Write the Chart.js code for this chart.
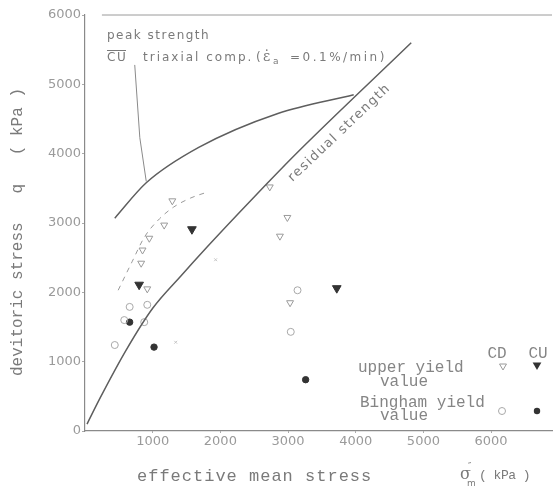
<!DOCTYPE html>
<html>
<head>
<meta charset="utf-8">
<script src="https://cdn.jsdelivr.net/npm/chart.js@4.4.1/dist/chart.umd.min.js"></script>
<style>
  body { margin: 0; background: #fff; }
</style>
</head>
<body>
<canvas id="stressChart" width="558" height="486"></canvas>
<script>
// peak strength, CU triaxial comp.
const peakX = [440, 905, 1680, 2850, 3970];
const peakY = [3070, 3580, 4090, 4580, 4850];
// residual strength
const residualX = [30, 220, 610, 1000, 1420, 1800, 2260, 2700, 3130, 4820];
const residualY = [100, 470, 1170, 1770, 2240, 2650, 3130, 3580, 4010, 5600];
// dashed trend through the CD upper yield points
const dashX = [490, 700, 880, 1100, 1310, 1560, 1820];
const dashY = [2030, 2450, 2800, 3060, 3230, 3360, 3450];
// pointer from the label to the peak curve
const pointerX = [735, 810, 905];
const pointerY = [5280, 4230, 3600];
// top frame line
const topX = [250, 6900];
const topY = [6000, 6000];

// upper yield value
const cdUpperX = [830, 850, 920, 950, 1170, 1290, 2730, 2880, 2990, 3030];
const cdUpperY = [2420, 2610, 2050, 2780, 2970, 3320, 3520, 2810, 3080, 1850];
const cuUpperX = [800, 1580, 3720];
const cuUpperY = [2110, 2910, 2060];
// Bingham yield value
const cdBinghamX = [440, 580, 660, 875, 920, 3040, 3140];
const cdBinghamY = [1240, 1600, 1790, 1570, 1820, 1430, 2030];
const cuBinghamX = [660, 1020, 3260];
const cuBinghamY = [1570, 1210, 740];
// faint stray marks
const faintX = [1340, 1930];
const faintY = [1280, 2470];

const xTicks = [1000, 2000, 3000, 4000, 5000, 6000];

const pts = (xs, ys) => xs.map((x, i) => ({ x: x, y: ys[i] }));

const lineColor = '#5e5e5e';
const textColor = '#7a7a7a';

function curve(xs, ys, opts) {
  return Object.assign({
    type: 'line',
    data: pts(xs, ys),
    showLine: true,
    borderColor: lineColor,
    borderWidth: 1.5,
    pointRadius: 0,
    cubicInterpolationMode: 'monotone',
    fill: false
  }, opts || {});
}

function marks(xs, ys, opts) {
  return Object.assign({
    data: pts(xs, ys),
    showLine: false,
    borderWidth: 1
  }, opts);
}

function tri(ctx, x, y, r, filled, color) {
  ctx.beginPath();
  ctx.moveTo(x - r * 0.87, y - r * 0.5);
  ctx.lineTo(x + r * 0.87, y - r * 0.5);
  ctx.lineTo(x, y + r);
  ctx.closePath();
  if (filled) { ctx.fillStyle = color; ctx.fill(); }
  else { ctx.strokeStyle = color; ctx.lineWidth = 1; ctx.stroke(); }
}

function dot(ctx, x, y, r, filled, color) {
  ctx.beginPath();
  ctx.arc(x, y, r, 0, Math.PI * 2);
  if (filled) { ctx.fillStyle = color; ctx.fill(); }
  else { ctx.strokeStyle = color; ctx.lineWidth = 1; ctx.stroke(); }
}

const annotations = {
  id: 'annotations',
  afterDraw(chart) {
    const ctx = chart.ctx;
    const sx = chart.scales.x, sy = chart.scales.y;
    ctx.save();
    ctx.fillStyle = textColor;
    ctx.textBaseline = 'middle';

    // y axis title
    ctx.save();
    ctx.translate(18, 232);
    ctx.rotate(-Math.PI / 2);
    ctx.textAlign = 'center';
    ctx.font = '16px "Liberation Mono"';
    ctx.fillText('devitoric stress   q   ( kPa )', 0, 0);
    ctx.restore();

    // x axis title
    ctx.textAlign = 'left';
    ctx.font = '17px "Liberation Mono"';
    ctx.letterSpacing = '1px';
    ctx.fillText('effective mean stress', 137, 476);
    ctx.letterSpacing = '0px';
    ctx.font = '16px "DejaVu Serif"';
    ctx.fillText('σ', 460, 475);
    ctx.font = '9px "DejaVu Sans"';
    ctx.fillText('″', 468, 467);
    ctx.fillText('m', 467, 484);
    ctx.font = '13px "Liberation Mono"';
    ctx.letterSpacing = '-0.5px';
    ctx.fillText('( kPa )', 479, 476);

    // peak strength label
    ctx.font = '12px "DejaVu Sans"';
    ctx.letterSpacing = '1.5px';
    ctx.fillText('peak strength', 107, 36);
    ctx.fillText('CU', 107, 58);
    ctx.letterSpacing = '2px';
    ctx.fillText('triaxial comp.', 143, 58);
    ctx.letterSpacing = '0px';
    ctx.fillText('(', 256, 58);
    ctx.font = '14px "DejaVu Serif"';
    ctx.fillText('\u03B5\u0307', 263, 57);
    ctx.font = '9px "DejaVu Sans"';
    ctx.fillText('a', 273, 62);
    ctx.font = '12px "DejaVu Sans"';
    ctx.letterSpacing = '2.5px';
    ctx.fillText('=0.1%/min)', 290, 58);
    ctx.letterSpacing = '0px';
    ctx.strokeStyle = textColor;
    ctx.lineWidth = 1;
    ctx.beginPath();
    ctx.moveTo(107, 50.5);
    ctx.lineTo(126, 50.5);
    ctx.stroke();

    // residual strength label, along the line
    ctx.save();
    ctx.translate(sx.getPixelForValue(3760), sy.getPixelForValue(4300));
    ctx.rotate(-0.76);
    ctx.textAlign = 'center';
    ctx.font = '13px "DejaVu Sans"';
    ctx.letterSpacing = '1.5px';
    ctx.fillText('residual strength', 0, 0);
    ctx.restore();

    // legend block
    ctx.letterSpacing = '0px';
    ctx.fillStyle = '#858585';
    ctx.font = '16px "Liberation Mono"';
    ctx.textAlign = 'center';
    ctx.fillText('CD', 497, 354);
    ctx.fillText('CU', 538, 354);
    ctx.textAlign = 'left';
    ctx.fillText('upper yield', 358, 368);
    ctx.fillText('value', 380, 382);
    ctx.fillText('Bingham yield', 360, 403);
    ctx.fillText('value', 380, 416);
    tri(ctx, 503, 366, 4, false, '#9a9a9a');
    tri(ctx, 537, 365, 5, true, '#333');
    dot(ctx, 502, 411, 3.5, false, '#a8a8a8');
    dot(ctx, 537, 411, 3.2, true, '#333');

    ctx.restore();
  }
};

new Chart(document.getElementById('stressChart'), {
  type: 'scatter',
  data: {
    datasets: [
      curve(peakX, peakY),
      curve(residualX, residualY),
      curve(dashX, dashY, { borderColor: '#9a9a9a', borderWidth: 1, borderDash: [5, 5] }),
      curve(pointerX, pointerY, { borderColor: '#8a8a8a', borderWidth: 1, cubicInterpolationMode: 'default', tension: 0 }),
      curve(topX, topY, { borderColor: '#9a9a9a', borderWidth: 1, clip: false, tension: 0 }),
      marks(cdUpperX, cdUpperY, { pointStyle: 'triangle', rotation: 180, pointRadius: 4, borderColor: '#9a9a9a', backgroundColor: 'rgba(255,255,255,0)' }),
      marks(cuUpperX, cuUpperY, { pointStyle: 'triangle', rotation: 180, pointRadius: 5, borderColor: '#333', backgroundColor: '#333' }),
      marks(cdBinghamX, cdBinghamY, { pointStyle: 'circle', pointRadius: 3.5, borderColor: '#a8a8a8', backgroundColor: 'rgba(255,255,255,0)' }),
      marks(cuBinghamX, cuBinghamY, { pointStyle: 'circle', pointRadius: 3.2, borderColor: '#333', backgroundColor: '#333' }),
      marks(faintX, faintY, { pointStyle: 'crossRot', pointRadius: 2, borderColor: '#c4c4c4' })
    ]
  },
  options: {
    responsive: false,
    animation: false,
    devicePixelRatio: 1,
    layout: { padding: { top: 15, right: 0, left: 0, bottom: 0 } },
    plugins: { legend: { display: false }, tooltip: { enabled: false } },
    scales: {
      x: {
        type: 'linear',
        min: 0,
        max: 6900,
        afterFit: s => { s.height = 55; },
        afterBuildTicks: s => { s.ticks = xTicks.map(v => ({ value: v })); },
        grid: { drawOnChartArea: false, tickLength: 2, color: '#aaa' },
        border: { display: true, color: '#8a8a8a', width: 1.2 },
        ticks: { padding: 1, color: '#9a9a9a', font: { family: 'DejaVu Sans', size: 13 }, callback: v => String(v) }
      },
      y: {
        min: 0,
        max: 6000,
        afterFit: s => { s.width = 85; },
        grid: { drawOnChartArea: false, tickLength: 3, color: '#aaa' },
        border: { display: true, color: '#8a8a8a', width: 1.2 },
        ticks: { stepSize: 1000, padding: 1, color: '#9a9a9a', font: { family: 'DejaVu Sans', size: 13 }, callback: v => String(v) }
      }
    }
  },
  plugins: [annotations]
});
</script>
</body>
</html>
